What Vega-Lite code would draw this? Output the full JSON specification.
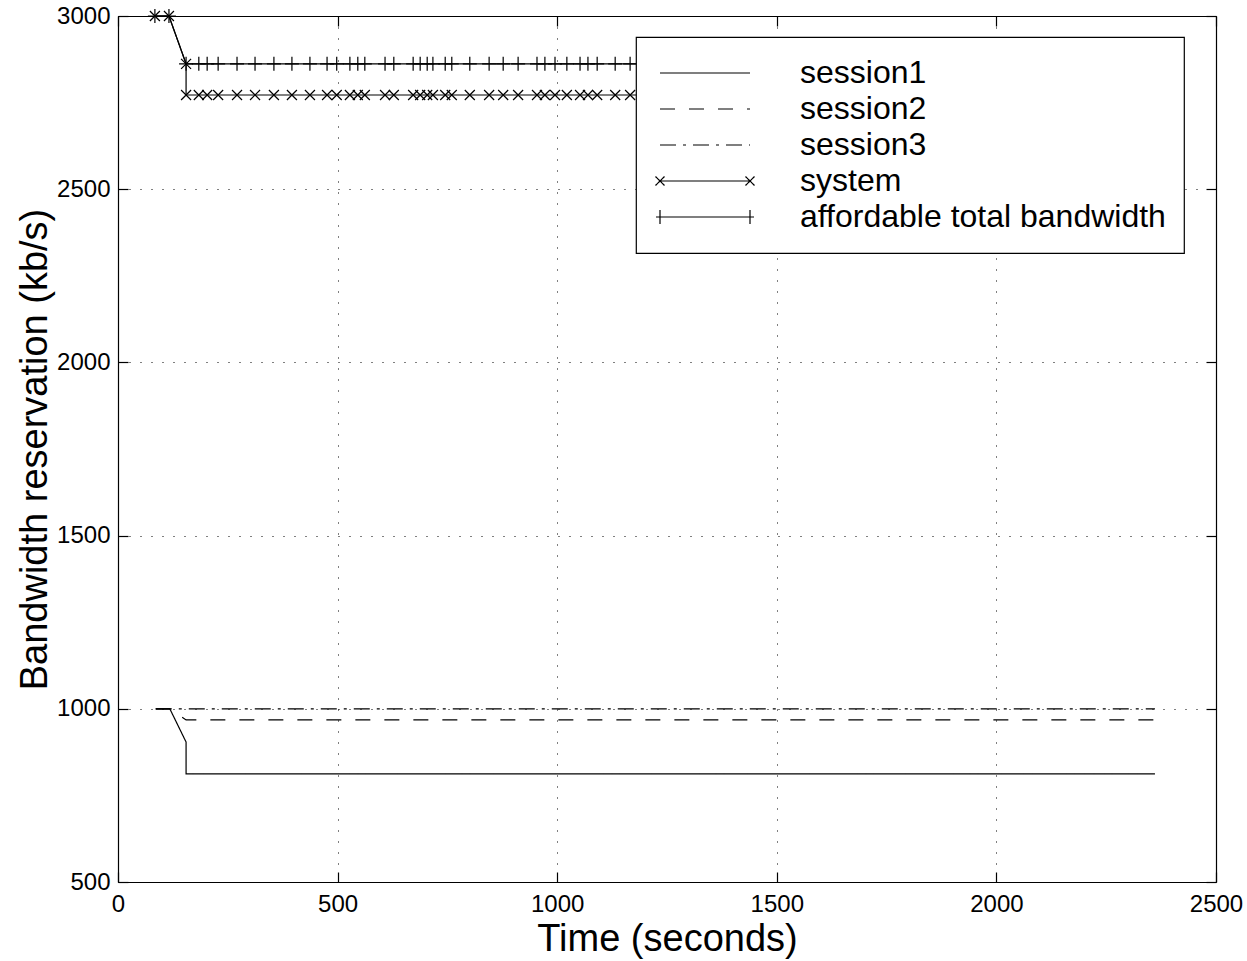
{
  "$schema": "https://vega.github.io/schema/vega-lite/v6.json",
  "width": 1098,
  "height": 866,
  "autosize": "none",
  "padding": {"left": 118, "top": 16, "right": 31, "bottom": 79},
  "background": "white",
  "config": {
    "view": {"stroke": null},
    "font": "Liberation Sans",
    "legend": {"strokeWidth": 1.2},
    "axis": {
      "labelFont": "Liberation Sans",
      "labelFontSize": 24,
      "labelColor": "black",
      "titleFont": "Liberation Sans",
      "titleFontSize": 38,
      "titleFontWeight": "normal",
      "titleColor": "black",
      "domainColor": "black",
      "domainWidth": 1.2,
      "tickColor": "black",
      "tickWidth": 1.2,
      "tickSize": -10,
      "labelFlush": false,
      "labelOverlap": false,
      "format": "d",
      "gridColor": "black",
      "gridWidth": 1,
      "gridDash": [1, 10]
    }
  },
  "data": {
    "values": [
      {"series": "session1", "i": 0, "t": 86, "bw": 1000},
      {"series": "session1", "i": 1, "t": 118, "bw": 1000},
      {"series": "session1", "i": 2, "t": 155, "bw": 904},
      {"series": "session1", "i": 3, "t": 155, "bw": 812},
      {"series": "session1", "i": 4, "t": 2361, "bw": 812},
      {"series": "session2", "i": 0, "t": 86, "bw": 1000},
      {"series": "session2", "i": 1, "t": 118, "bw": 1000},
      {"series": "session2", "i": 2, "t": 155, "bw": 968},
      {"series": "session2", "i": 3, "t": 2361, "bw": 968},
      {"series": "session3", "i": 0, "t": 86, "bw": 1000},
      {"series": "session3", "i": 1, "t": 2361, "bw": 1000},
      {"series": "system", "i": 0, "t": 84, "bw": 3000},
      {"series": "system", "i": 1, "t": 116, "bw": 3000},
      {"series": "system", "i": 2, "t": 155, "bw": 2862},
      {"series": "system", "i": 3, "t": 155, "bw": 2772},
      {"series": "system", "i": 4, "t": 184, "bw": 2772},
      {"series": "system", "i": 5, "t": 203, "bw": 2772},
      {"series": "system", "i": 6, "t": 228, "bw": 2772},
      {"series": "system", "i": 7, "t": 271, "bw": 2772},
      {"series": "system", "i": 8, "t": 312, "bw": 2772},
      {"series": "system", "i": 9, "t": 355, "bw": 2772},
      {"series": "system", "i": 10, "t": 396, "bw": 2772},
      {"series": "system", "i": 11, "t": 437, "bw": 2772},
      {"series": "system", "i": 12, "t": 476, "bw": 2772},
      {"series": "system", "i": 13, "t": 498, "bw": 2772},
      {"series": "system", "i": 14, "t": 528, "bw": 2772},
      {"series": "system", "i": 15, "t": 546, "bw": 2772},
      {"series": "system", "i": 16, "t": 562, "bw": 2772},
      {"series": "system", "i": 17, "t": 608, "bw": 2772},
      {"series": "system", "i": 18, "t": 628, "bw": 2772},
      {"series": "system", "i": 19, "t": 672, "bw": 2772},
      {"series": "system", "i": 20, "t": 688, "bw": 2772},
      {"series": "system", "i": 21, "t": 704, "bw": 2772},
      {"series": "system", "i": 22, "t": 717, "bw": 2772},
      {"series": "system", "i": 23, "t": 745, "bw": 2772},
      {"series": "system", "i": 24, "t": 760, "bw": 2772},
      {"series": "system", "i": 25, "t": 801, "bw": 2772},
      {"series": "system", "i": 26, "t": 845, "bw": 2772},
      {"series": "system", "i": 27, "t": 877, "bw": 2772},
      {"series": "system", "i": 28, "t": 911, "bw": 2772},
      {"series": "system", "i": 29, "t": 954, "bw": 2772},
      {"series": "system", "i": 30, "t": 972, "bw": 2772},
      {"series": "system", "i": 31, "t": 995, "bw": 2772},
      {"series": "system", "i": 32, "t": 1022, "bw": 2772},
      {"series": "system", "i": 33, "t": 1052, "bw": 2772},
      {"series": "system", "i": 34, "t": 1070, "bw": 2772},
      {"series": "system", "i": 35, "t": 1091, "bw": 2772},
      {"series": "system", "i": 36, "t": 1132, "bw": 2772},
      {"series": "system", "i": 37, "t": 1166, "bw": 2772},
      {"series": "system", "i": 38, "t": 2361, "bw": 2772},
      {"series": "affordable total bandwidth", "i": 0, "t": 84, "bw": 3000},
      {"series": "affordable total bandwidth", "i": 1, "t": 116, "bw": 3000},
      {"series": "affordable total bandwidth", "i": 2, "t": 155, "bw": 2862},
      {"series": "affordable total bandwidth", "i": 3, "t": 184, "bw": 2862},
      {"series": "affordable total bandwidth", "i": 4, "t": 203, "bw": 2862},
      {"series": "affordable total bandwidth", "i": 5, "t": 228, "bw": 2862},
      {"series": "affordable total bandwidth", "i": 6, "t": 271, "bw": 2862},
      {"series": "affordable total bandwidth", "i": 7, "t": 312, "bw": 2862},
      {"series": "affordable total bandwidth", "i": 8, "t": 355, "bw": 2862},
      {"series": "affordable total bandwidth", "i": 9, "t": 396, "bw": 2862},
      {"series": "affordable total bandwidth", "i": 10, "t": 437, "bw": 2862},
      {"series": "affordable total bandwidth", "i": 11, "t": 476, "bw": 2862},
      {"series": "affordable total bandwidth", "i": 12, "t": 498, "bw": 2862},
      {"series": "affordable total bandwidth", "i": 13, "t": 528, "bw": 2862},
      {"series": "affordable total bandwidth", "i": 14, "t": 546, "bw": 2862},
      {"series": "affordable total bandwidth", "i": 15, "t": 562, "bw": 2862},
      {"series": "affordable total bandwidth", "i": 16, "t": 608, "bw": 2862},
      {"series": "affordable total bandwidth", "i": 17, "t": 628, "bw": 2862},
      {"series": "affordable total bandwidth", "i": 18, "t": 672, "bw": 2862},
      {"series": "affordable total bandwidth", "i": 19, "t": 688, "bw": 2862},
      {"series": "affordable total bandwidth", "i": 20, "t": 704, "bw": 2862},
      {"series": "affordable total bandwidth", "i": 21, "t": 717, "bw": 2862},
      {"series": "affordable total bandwidth", "i": 22, "t": 745, "bw": 2862},
      {"series": "affordable total bandwidth", "i": 23, "t": 760, "bw": 2862},
      {"series": "affordable total bandwidth", "i": 24, "t": 801, "bw": 2862},
      {"series": "affordable total bandwidth", "i": 25, "t": 845, "bw": 2862},
      {"series": "affordable total bandwidth", "i": 26, "t": 877, "bw": 2862},
      {"series": "affordable total bandwidth", "i": 27, "t": 911, "bw": 2862},
      {"series": "affordable total bandwidth", "i": 28, "t": 954, "bw": 2862},
      {"series": "affordable total bandwidth", "i": 29, "t": 972, "bw": 2862},
      {"series": "affordable total bandwidth", "i": 30, "t": 995, "bw": 2862},
      {"series": "affordable total bandwidth", "i": 31, "t": 1022, "bw": 2862},
      {"series": "affordable total bandwidth", "i": 32, "t": 1052, "bw": 2862},
      {"series": "affordable total bandwidth", "i": 33, "t": 1070, "bw": 2862},
      {"series": "affordable total bandwidth", "i": 34, "t": 1091, "bw": 2862},
      {"series": "affordable total bandwidth", "i": 35, "t": 1132, "bw": 2862},
      {"series": "affordable total bandwidth", "i": 36, "t": 1166, "bw": 2862},
      {"series": "affordable total bandwidth", "i": 37, "t": 2361, "bw": 2862}
    ]
  },
  "layer": [
    {
      "mark": {"type": "line", "color": "black", "strokeWidth": 1.2},
      "encoding": {
        "x": {
          "field": "t", "type": "quantitative",
          "scale": {"domain": [0, 2500], "nice": false, "zero": false},
          "axis": {
            "orient": "bottom",
            "values": [0, 500, 1000, 1500, 2000, 2500],
            "title": "Time (seconds)",
            "grid": true,
            "labelPadding": 20,
            "titleBaseline": "alphabetic",
            "titleY": 68
          }
        },
        "y": {
          "field": "bw", "type": "quantitative",
          "scale": {"domain": [500, 3000], "nice": false, "zero": false},
          "axis": {
            "orient": "left",
            "values": [500, 1000, 1500, 2000, 2500, 3000],
            "title": "Bandwidth reservation (kb/s)",
            "grid": true,
            "labelPadding": 18,
            "titleBaseline": "alphabetic",
            "titleX": -72
          }
        },
        "strokeDash": {
          "field": "series", "type": "nominal",
          "scale": {
            "domain": ["session1", "session2", "session3", "system", "affordable total bandwidth"],
            "range": [[1, 0], [15, 14], [16, 7, 3, 7], [1, 0], [1, 0]]
          },
          "legend": {
            "orient": "none",
            "legendX": 518,
            "legendY": 21,
            "title": null,
            "fillColor": "white",
            "strokeColor": "black",
            "padding": 18,
            "symbolSize": 10000,
            "symbolStrokeColor": "black",
            "symbolStrokeWidth": 1.2,
            "symbolFillColor": "transparent",
            "labelFont": "Liberation Sans",
            "labelFontSize": 32,
            "labelColor": "black",
            "labelOffset": 44,
            "labelLimit": 800,
            "clipHeight": 36,
            "rowPadding": 0,
            "encode": {
              "symbols": {
                "update": {
                  "shape": {"signal": "datum.value === 'system' ? 'M-0.9,0H0.9M-0.99,-0.09L-0.81,0.09M-0.99,0.09L-0.81,-0.09M0.81,-0.09L0.99,0.09M0.81,0.09L0.99,-0.09' : datum.value === 'affordable total bandwidth' ? 'M-0.98,0H0.98M-0.9,-0.14V0.14M0.9,-0.14V0.14' : 'M-0.9,0H0.9'"},
                  "fill": {"value": "transparent"}
                }
              }
            }
          }
        },
        "order": {"field": "i", "type": "quantitative"}
      }
    },
    {
      "transform": [{"filter": "datum.series === 'system'"}],
      "mark": {"type": "point", "shape": "M-1,-1L1,1M-1,1L1,-1", "size": 100, "filled": false, "stroke": "black", "strokeWidth": 1.2, "opacity": 1},
      "encoding": {
        "x": {
          "field": "t", "type": "quantitative",
          "axis": {"orient": "top", "values": [0, 500, 1000, 1500, 2000, 2500], "labels": false, "title": null, "grid": false}
        },
        "y": {
          "field": "bw", "type": "quantitative",
          "axis": {"orient": "right", "values": [500, 1000, 1500, 2000, 2500, 3000], "labels": false, "title": null, "grid": false}
        }
      }
    },
    {
      "transform": [{"filter": "datum.series === 'affordable total bandwidth'"}],
      "mark": {"type": "point", "shape": "M-1,0H1M0,-1V1", "size": 196, "filled": false, "stroke": "black", "strokeWidth": 1.2, "opacity": 1},
      "encoding": {
        "x": {"field": "t", "type": "quantitative", "axis": null},
        "y": {"field": "bw", "type": "quantitative", "axis": null}
      }
    }
  ],
  "resolve": {"axis": {"x": "independent", "y": "independent"}}
}
